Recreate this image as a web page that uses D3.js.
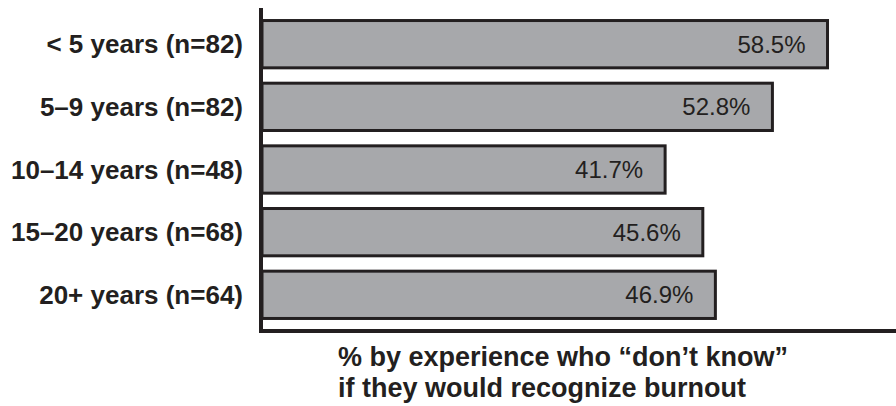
<!DOCTYPE html>
<html>
<head>
<meta charset="utf-8">
<script src="https://cdn.jsdelivr.net/npm/d3@7"></script>
<style>
  body { margin: 0; background: #fff; }
  svg { display: block; font-family: "Liberation Sans", Arial, sans-serif; }
</style>
</head>
<body>
<div id="chart"></div>
<script>
const categories = [
  "< 5 years (n=82)",
  "5–9 years (n=82)",
  "10–14 years (n=48)",
  "15–20 years (n=68)",
  "20+ years (n=64)"
];
const values = [58.5, 52.8, 41.7, 45.6, 46.9];
const titleLines = [
  "% by experience who “don’t know”",
  "if they would recognize burnout"
];

const width = 896;
const height = 406;
const margin = { top: 8, right: 0, bottom: 75, left: 262 };

const data = categories.map((c, i) => ({ category: c, value: values[i] }));

const xScale = d3.scaleLinear()
  .domain([0, 65])
  .range([margin.left, margin.left + 65 * 9.667]);

const yScale = d3.scaleBand()
  .domain(categories)
  .range([margin.top, 331])
  .paddingInner(0.245)
  .paddingOuter(0.2);

const svg = d3.select("#chart")
  .append("svg")
  .attr("width", width)
  .attr("height", height);

// bars
svg.selectAll(".bar")
  .data(data)
  .enter()
  .append("rect")
  .attr("class", "bar")
  .attr("x", xScale(0))
  .attr("y", d => yScale(d.category))
  .attr("width", d => xScale(d.value) - xScale(0))
  .attr("height", yScale.bandwidth())
  .attr("fill", "#a7a8ab")
  .attr("stroke", "#231f20")
  .attr("stroke-width", 3);

// value labels
svg.selectAll(".value")
  .data(data)
  .enter()
  .append("text")
  .attr("class", "value")
  .attr("x", d => xScale(d.value) - 22)
  .attr("y", d => yScale(d.category) + yScale.bandwidth() / 2)
  .attr("dy", "0.35em")
  .attr("text-anchor", "end")
  .style("font-size", "24px")
  .style("fill", "#231f20")
  .text(d => d.value.toFixed(1) + "%");

// category labels
svg.selectAll(".category")
  .data(data)
  .enter()
  .append("text")
  .attr("class", "category")
  .attr("x", 243)
  .attr("y", d => yScale(d.category) + yScale.bandwidth() / 2)
  .attr("dy", "0.35em")
  .attr("text-anchor", "end")
  .style("font-weight", "bold")
  .style("font-size", "26px")
  .style("fill", "#231f20")
  .text(d => d.category);

// axes
svg.append("line")
  .attr("x1", 261).attr("x2", 261)
  .attr("y1", 8).attr("y2", 333)
  .attr("stroke", "#231f20")
  .attr("stroke-width", 4);

svg.append("line")
  .attr("x1", 259).attr("x2", width)
  .attr("y1", 331).attr("y2", 331)
  .attr("stroke", "#231f20")
  .attr("stroke-width", 4);

// axis title
svg.append("text")
  .attr("x", 338)
  .attr("y", 366)
  .style("font-weight", "bold")
  .style("font-size", "27px")
  .style("fill", "#231f20")
  .selectAll("tspan")
  .data(titleLines)
  .enter()
  .append("tspan")
  .attr("x", 338)
  .attr("dy", (d, i) => i === 0 ? 0 : 31)
  .text(d => d);
</script>
</body>
</html>
